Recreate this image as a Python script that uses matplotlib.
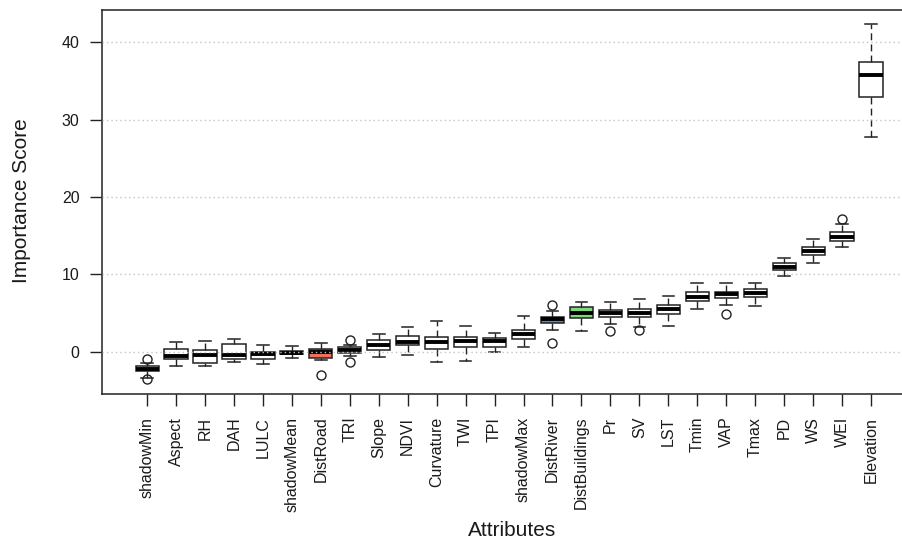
import matplotlib
matplotlib.use("Agg")
import matplotlib.pyplot as plt

plt.rcParams["font.family"] = ["Liberation Sans", "DejaVu Sans"]

# Attribute importance distributions (five-number summaries plus outliers)
attributes = ["shadowMin", "Aspect", "RH", "DAH", "LULC", "shadowMean", "DistRoad",
              "TRI", "Slope", "NDVI", "Curvature", "TWI", "TPI", "shadowMax",
              "DistRiver", "DistBuildings", "Pr", "SV", "LST", "Tmin", "VAP", "Tmax",
              "PD", "WS", "WEI", "Elevation"]
whisker_low = [-3.35, -1.77, -1.81, -1.33, -1.59, -0.73, -1.03, -0.50, -0.69, -0.43,
               -1.25, -1.12, -0.04, 0.69, 2.84, 2.75, 3.60, 3.20, 3.40, 5.55, 6.06,
               5.97, 9.80, 11.52, 13.59, 27.78]
q1 = [-2.50, -0.86, -1.38, -0.86, -0.90, -0.30, -0.82, -0.12, 0.22, 0.86,
      0.39, 0.69, 0.58, 1.64, 3.70, 4.43, 4.55, 4.47, 4.90, 6.62, 6.93,
      7.06, 10.58, 12.47, 14.36, 32.90]
median = [-2.15, -0.56, -0.35, -0.43, -0.26, -0.08, -0.05, 0.26, 0.95, 1.25,
          1.25, 1.42, 1.42, 2.28, 4.22, 4.99, 5.00, 5.03, 5.51, 7.14, 7.44,
          7.57, 11.01, 13.07, 14.88, 35.74]
q3 = [-1.80, 0.35, 0.22, 0.99, 0.04, 0.13, 0.34, 0.62, 1.50, 2.06,
      1.98, 1.98, 1.77, 2.84, 4.56, 5.77, 5.45, 5.60, 6.02, 7.70, 7.78,
      8.13, 11.44, 13.59, 15.45, 37.50]
whisker_high = [-1.38, 1.33, 1.46, 1.64, 0.90, 0.73, 1.12, 0.85, 2.32, 3.18,
                4.04, 3.40, 2.41, 4.65, 5.29, 6.41, 6.40, 6.84, 7.26, 8.86, 8.86,
                8.94, 12.08, 14.62, 16.48, 42.30]
outliers = [[-0.95, -3.55], [], [], [], [], [], [-3.01], [1.55, -1.25], [], [],
            [], [], [], [], [6.06, 1.12], [], [2.75], [2.85], [], [], [4.90],
            [], [], [], [17.12], []]
fill_colors = {"DistRoad": "#F26F5E", "DistRiver": "#4F8FC4", "DistBuildings": "#7DD87D"}

stats = []
for i, name in enumerate(attributes):
    stats.append(dict(label=name, whislo=whisker_low[i], q1=q1[i], med=median[i],
                      q3=q3[i], whishi=whisker_high[i], fliers=outliers[i]))

W, H = 903, 543
fig = plt.figure(figsize=(W / 100, H / 100), dpi=100)
left_px, right_px, top_px, bottom_px = 102.5, 915.6, 10.2, 393.6
ax = fig.add_axes([left_px / W, (H - bottom_px) / H,
                   (right_px - left_px) / W, (bottom_px - top_px) / H])

n = len(attributes)
positions = list(range(1, n + 1))
edge = "#222222"
bp = ax.bxp(stats, positions=positions, widths=0.8, capwidths=0.4,
            patch_artist=True, showfliers=True,
            boxprops=dict(edgecolor=edge, linewidth=1.1, facecolor="white"),
            medianprops=dict(color="black", linewidth=2.8, solid_capstyle="butt"),
            whiskerprops=dict(color=edge, linewidth=1.0, linestyle=(0, (5, 3))),
            capprops=dict(color=edge, linewidth=1.1),
            flierprops=dict(marker="o", markerfacecolor="none", markeredgecolor=edge,
                            markersize=6.5, markeredgewidth=1.0))
for patch, name in zip(bp["boxes"], attributes):
    patch.set_facecolor(fill_colors.get(name, "white"))

# Axis ranges with 4% padding around the data
all_vals = whisker_low + whisker_high + [v for o in outliers for v in o]
lo, hi = min(all_vals), max(all_vals)
pad = 0.04 * (hi - lo)
ax.set_ylim(lo - pad, hi + pad)
xpad = 0.04 * n
ax.set_xlim(0.5 - xpad, n + 0.5 + xpad)

yticks = [0, 10, 20, 30, 40]
ax.set_yticks(yticks)
ax.set_yticklabels([str(t) for t in yticks])
for t in yticks:
    ax.axhline(t, color="#c4c4c4", linewidth=1.0, linestyle=(0, (1, 2.2)), zorder=5)

ax.set_xticks(positions)
ax.set_xticklabels(attributes, rotation=90, ha="center", va="top")
ax.tick_params(axis="both", direction="out", length=8.3, width=1.0, color=edge,
               labelsize=11.5, labelcolor="#1a1a1a", pad=8.3)

for side in ["left", "right", "top", "bottom"]:
    ax.spines[side].set_linewidth(1.1)
    ax.spines[side].set_color(edge)

fig.text(512 / W, (H - 531) / H, "Attributes", ha="center", va="center",
         fontsize=15, color="#1a1a1a")
fig.text(22 / W, (H - 201) / H, "Importance Score", ha="center", va="center",
         rotation=90, fontsize=15, color="#1a1a1a")

fig.savefig("out.png", dpi=100)
